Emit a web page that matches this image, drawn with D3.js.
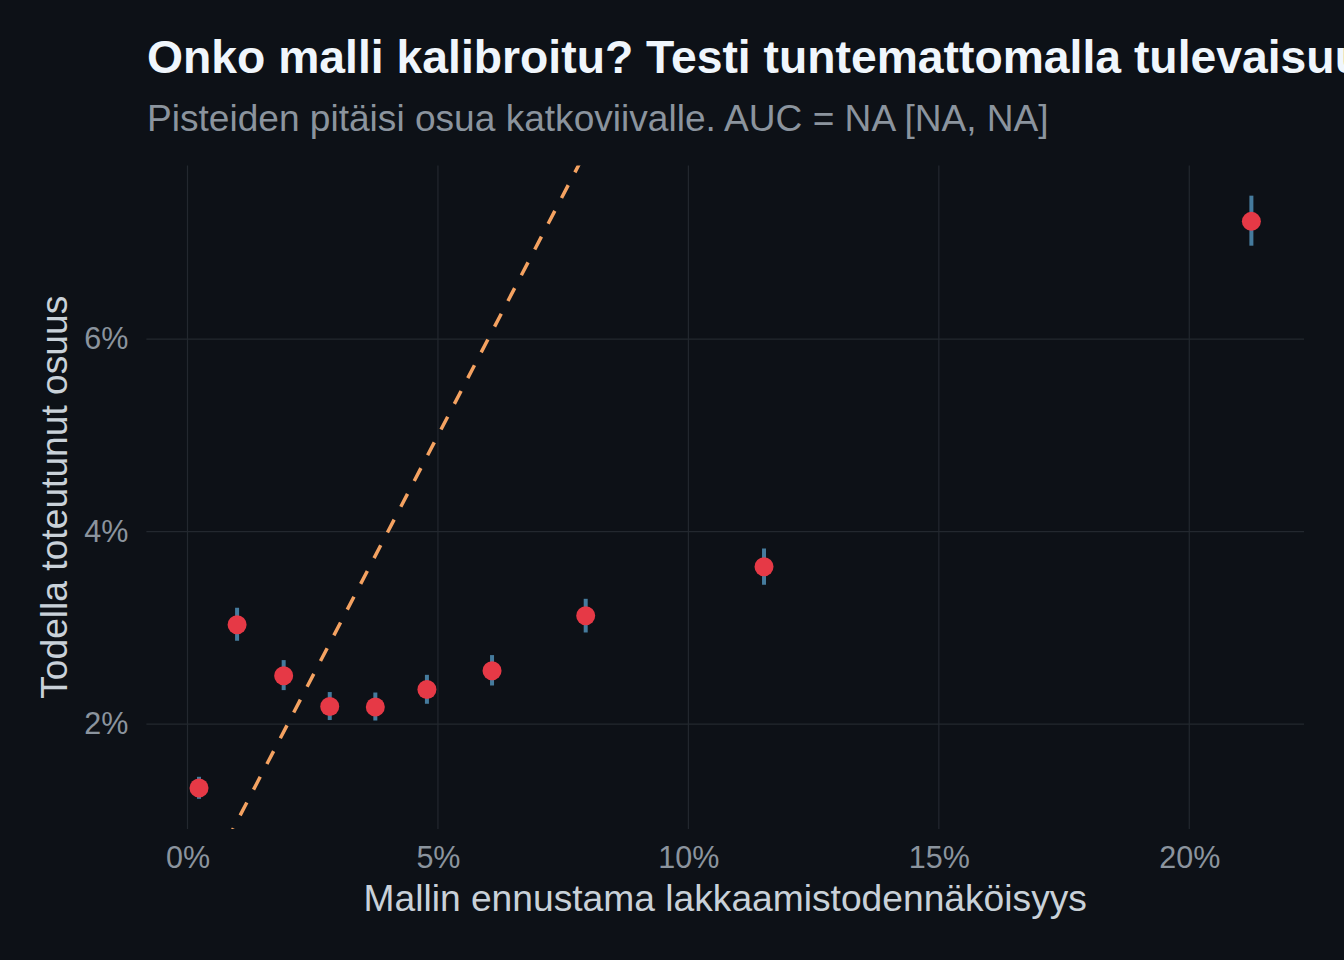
<!DOCTYPE html>
<html>
<head>
<meta charset="utf-8">
<script src="https://cdn.jsdelivr.net/npm/d3@7"></script>
<style>
    html, body { margin: 0; padding: 0; background: #0d1117; }
    svg { display: block; }
    text { font-family: "Liberation Sans", Arial, sans-serif; }
</style>
</head>
<body>
<svg id="chart" width="1344" height="960"></svg>
<script>
// predicted probability (%) per bin and the observed rate (%) with its interval
const predicted = [0.23, 0.99, 1.92, 2.84, 3.75, 4.78, 6.08, 7.95, 11.51, 21.24]
const observed  = [1.335, 3.032, 2.502, 2.183, 2.177, 2.36, 2.554, 3.126, 3.635, 7.225]
const lower     = [1.223, 2.866, 2.353, 2.042, 2.037, 2.211, 2.401, 2.952, 3.448, 6.972]
const upper     = [1.452, 3.209, 2.665, 2.333, 2.328, 2.512, 2.717, 3.302, 3.825, 7.492]

const xTicks = [0, 5, 10, 15, 20]
const yTicks = [2, 4, 6]

const title = 'Onko malli kalibroitu? Testi tuntemattomalla tulevaisuudella'
const subtitle = 'Pisteiden pitäisi osua katkoviivalle. AUC = NA [NA, NA]'
const xLabel = 'Mallin ennustama lakkaamistodennäköisyys'
const yLabel = 'Todella toteutunut osuus'

const bins = predicted.map((p, i) => ({ x: p, y: observed[i], lo: lower[i], hi: upper[i] }))

const panel = { left: 146.4, right: 1304, top: 165.5, bottom: 829 }

// ggplot-style 5% expansion around the data
const expand = (min, max) => {
    const pad = (max - min) * 0.05
    return [min - pad, max + pad]
}

const x = d3.scaleLinear()
    .domain(expand(d3.min(predicted), d3.max(predicted)))
    .range([panel.left, panel.right])

const y = d3.scaleLinear()
    .domain(expand(d3.min(lower), d3.max(upper)))
    .range([panel.bottom, panel.top])

const svg = d3.select('#chart')

svg.append('rect')
    .attr('width', 1344)
    .attr('height', 960)
    .attr('fill', '#0d1117')

svg.append('defs').append('clipPath')
    .attr('id', 'panel-clip')
    .append('rect')
    .attr('x', panel.left)
    .attr('y', panel.top)
    .attr('width', panel.right - panel.left)
    .attr('height', panel.bottom - panel.top)

// grid
const grid = svg.append('g').attr('class', 'grid')
grid.selectAll('.grid__x')
    .data(xTicks)
    .enter()
    .append('line')
    .attr('x1', (d) => x(d))
    .attr('x2', (d) => x(d))
    .attr('y1', panel.top)
    .attr('y2', panel.bottom)
    .attr('stroke', '#23282f')
    .attr('stroke-width', 1.2)

grid.selectAll('.grid__y')
    .data(yTicks)
    .enter()
    .append('line')
    .attr('x1', panel.left)
    .attr('x2', panel.right)
    .attr('y1', (d) => y(d))
    .attr('y2', (d) => y(d))
    .attr('stroke', '#23282f')
    .attr('stroke-width', 1.2)

// axes (labels only, no domain line or tick marks)
const xAxis = svg.append('g')
    .attr('transform', `translate(0,${panel.bottom})`)
    .call(d3.axisBottom(x).tickValues(xTicks).tickFormat((d) => d + '%').tickSize(0).tickPadding(17))
xAxis.select('.domain').remove()
xAxis.selectAll('text')
    .attr('fill', '#8b949e')
    .attr('font-size', 30.5)
    .attr('font-family', '"Liberation Sans", Arial, sans-serif')

const yAxis = svg.append('g')
    .attr('transform', `translate(${panel.left},0)`)
    .call(d3.axisLeft(y).tickValues(yTicks).tickFormat((d) => d + '%').tickSize(0).tickPadding(18))
yAxis.select('.domain').remove()
yAxis.selectAll('text')
    .attr('fill', '#8b949e')
    .attr('font-size', 30.5)
    .attr('font-family', '"Liberation Sans", Arial, sans-serif')

// perfect calibration line y = x
const diag = x.domain()
svg.append('line')
    .attr('clip-path', 'url(#panel-clip)')
    .attr('x1', x(diag[0]))
    .attr('y1', y(diag[0]))
    .attr('x2', x(diag[1]))
    .attr('y2', y(diag[1]))
    .attr('stroke', '#f4a261')
    .attr('stroke-width', 3.5)
    .attr('stroke-dasharray', '14.5 14.5')

// error bars
svg.selectAll('.bin__bar')
    .data(bins)
    .enter()
    .append('line')
    .attr('class', 'bin__bar')
    .attr('x1', (d) => x(d.x))
    .attr('x2', (d) => x(d.x))
    .attr('y1', (d) => y(d.lo))
    .attr('y2', (d) => y(d.hi))
    .attr('stroke', '#457b9d')
    .attr('stroke-width', 4)

// points
svg.selectAll('.bin__point')
    .data(bins)
    .enter()
    .append('circle')
    .attr('class', 'bin__point')
    .attr('cx', (d) => x(d.x))
    .attr('cy', (d) => y(d.y))
    .attr('r', 9.5)
    .attr('fill', '#e63946')

// titles
svg.append('text')
    .attr('x', 147)
    .attr('y', 73)
    .attr('fill', '#f0f6fc')
    .attr('font-size', 46.3)
    .attr('font-weight', 'bold')
    .text(title)

svg.append('text')
    .attr('x', 147)
    .attr('y', 131)
    .attr('fill', '#8b949e')
    .attr('font-size', 37.1)
    .text(subtitle)

svg.append('text')
    .attr('x', (panel.left + panel.right) / 2)
    .attr('y', 911)
    .attr('text-anchor', 'middle')
    .attr('fill', '#c9d1d9')
    .attr('font-size', 37.2)
    .text(xLabel)

svg.append('text')
    .attr('transform', `translate(67,${(panel.top + panel.bottom) / 2}) rotate(-90)`)
    .attr('text-anchor', 'middle')
    .attr('fill', '#c9d1d9')
    .attr('font-size', 37.2)
    .text(yLabel)
</script>
</body>
</html>
